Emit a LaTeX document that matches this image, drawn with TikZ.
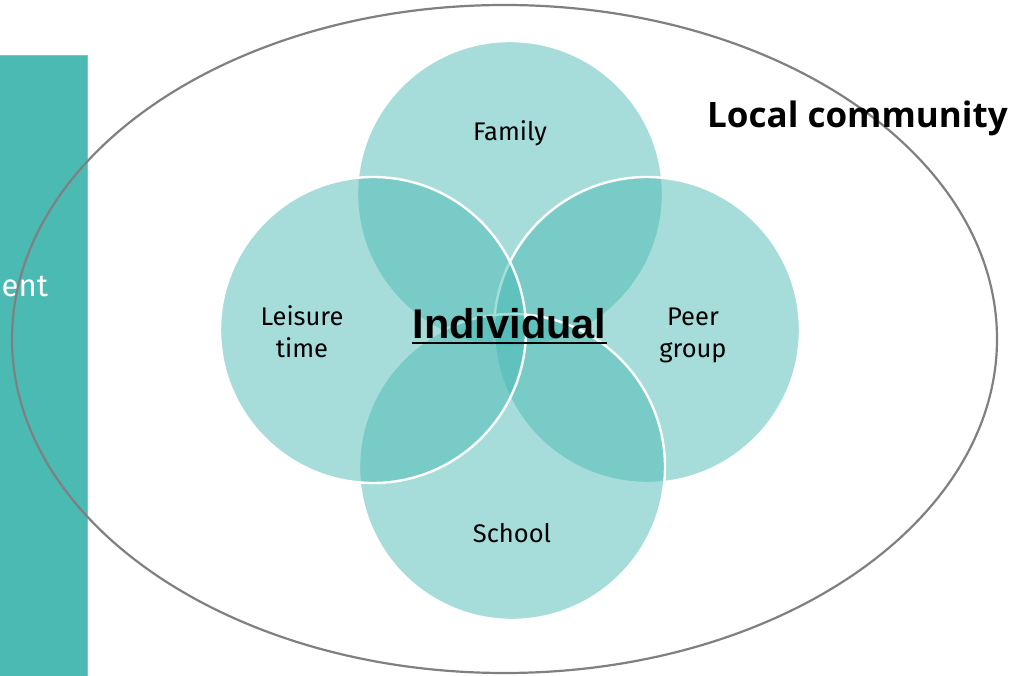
\documentclass[tikz,border=0pt]{standalone}
\usepackage{fontspec}
\usetikzlibrary{shapes.geometric}
\setmainfont{Fira Sans}
\newfontfamily\arialf{Liberation Sans}
\newfontfamily\headf{Open Sans}
\definecolor{tealbase}{RGB}{71,185,178}
\definecolor{rectteal}{RGB}{74,186,179}
\definecolor{rectedge}{RGB}{110,204,198}
\definecolor{ringgray}{RGB}{128,128,128}
\tikzset{
  sphere/.style={circle, minimum size=306pt, inner sep=0pt, fill=tealbase, fill opacity=0.48, draw=white, draw opacity=1, line width=2.4pt},
  lbl/.style={font=\fontsize{25.5}{32}\selectfont, text=black, anchor=base, inner sep=0pt, align=center},
}
\begin{document}
\begin{tikzpicture}[x=1pt,y=-1pt]
\useasboundingbox (0,0) rectangle (1009,676);
\fill[white] (0,0) rectangle (1009,676);
% left panel
\path[fill=rectteal, draw=rectedge, line width=0.8pt] (-5,55) rectangle (87,690);
\node[anchor=base west, inner sep=0pt, text=white, font=\fontsize{31}{34}\selectfont] (env) at (1.5,297) {ent};
% local community ring
\node[ellipse, minimum width=985pt, minimum height=668pt, draw=ringgray, line width=2.2pt, inner sep=0pt] (ring) at (504.5,339) {};
% circles
\node[sphere] (family) at (510,194) {};
\node[sphere] (peer) at (647,330) {};
\node[sphere] (school) at (512,467) {};
\node[sphere] (leisure) at (373,330) {};
% labels
\node[lbl] (tfam) at (510,141) {Family};
\node[lbl] (tlei1) at (302,325) {Leisure};
\node[lbl] (tlei2) at (302,357) {time};
\node[lbl] (tpeer1) at (693,325) {Peer};
\node[lbl] (tpeer2) at (693,357) {group};
\node[lbl] (tsch) at (512,542) {School};
\node[anchor=base, inner sep=0pt, font=\arialf\bfseries\fontsize{41.5}{44}\selectfont] (ind) at (509.5,338) {Individual};
\draw[line width=2pt] ([yshift=-5pt]ind.base west) -- ([yshift=-5pt]ind.base east);
\node[anchor=base west, inner sep=0pt, font=\headf\bfseries\fontsize{35}{38}\selectfont] (local) at (707,128) {Local community};
\end{tikzpicture}
\end{document}
